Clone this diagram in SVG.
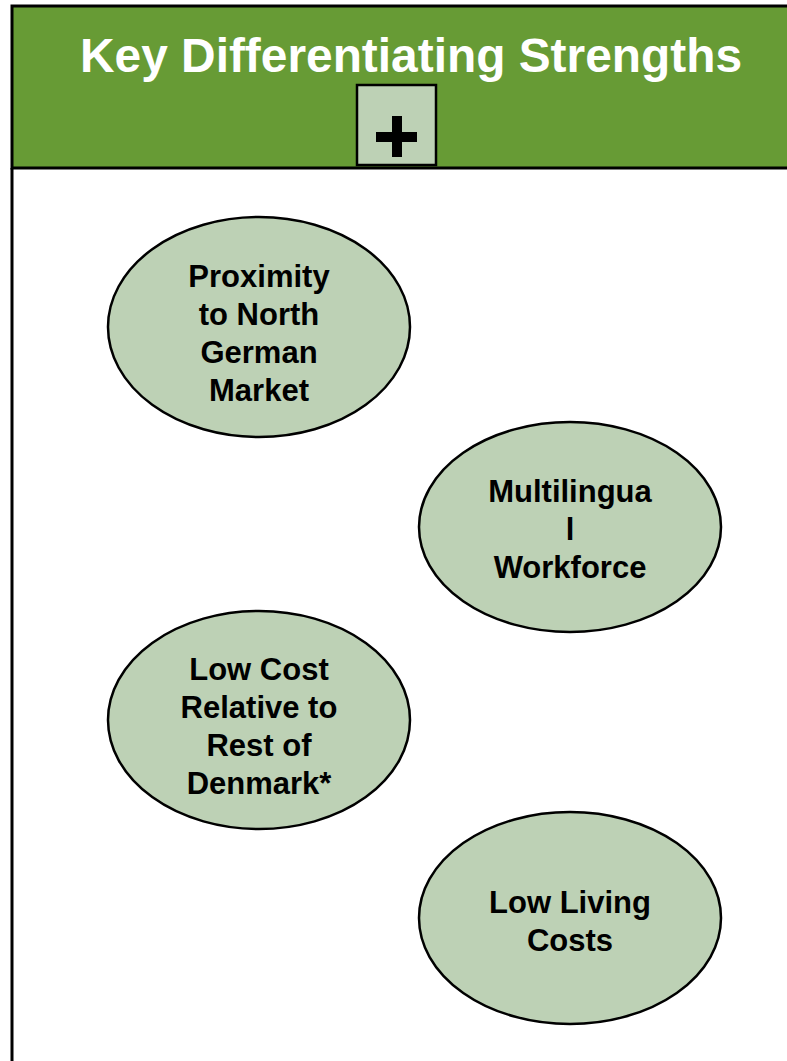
<svg xmlns="http://www.w3.org/2000/svg" width="787" height="1061" viewBox="0 0 787 1061">
<style>
.el{fill:#bdd1b5;stroke:#000;stroke-width:2.5}
.lb{font-family:"Liberation Sans",Arial,sans-serif;font-weight:bold;font-size:31px;fill:#000;text-anchor:middle}
</style>
<rect x="0" y="0" width="787" height="1061" fill="#fff"/>
<g id="frame">
<rect x="12" y="6" width="790" height="162" fill="#679b35" stroke="#000" stroke-width="3"/>
<line x1="12" y1="168" x2="12" y2="1061" stroke="#000" stroke-width="3"/>
<text x="411" y="72" font-family="'Liberation Sans',Arial,sans-serif" font-weight="bold" font-size="48" fill="#fff" text-anchor="middle" textLength="662" lengthAdjust="spacingAndGlyphs">Key Differentiating Strengths</text>
</g>
<g id="plus">
<rect x="357" y="85" width="79" height="80" fill="#bdd1b5" stroke="#000" stroke-width="2.5"/>
<rect x="376" y="132" width="41" height="10" fill="#000"/>
<rect x="392" y="116" width="10" height="41" fill="#000"/>
</g>
<g id="connectors"></g>
<g id="n1">
<ellipse class="el" cx="259" cy="327" rx="151" ry="110"/>
<text class="lb" x="259" y="287">Proximity</text>
<text class="lb" x="259" y="325">to North</text>
<text class="lb" x="259" y="363">German</text>
<text class="lb" x="259" y="401">Market</text>
</g>
<g id="n2">
<ellipse class="el" cx="570" cy="527" rx="151" ry="105"/>
<text class="lb" x="570" y="502">Multilingua</text>
<text class="lb" x="570" y="540">l</text>
<text class="lb" x="570" y="578">Workforce</text>
</g>
<g id="n3">
<ellipse class="el" cx="259" cy="720" rx="151" ry="109"/>
<text class="lb" x="259" y="680">Low Cost</text>
<text class="lb" x="259" y="718">Relative to</text>
<text class="lb" x="259" y="756">Rest of</text>
<text class="lb" x="259" y="794">Denmark*</text>
</g>
<g id="n4">
<ellipse class="el" cx="570" cy="918" rx="151" ry="106"/>
<text class="lb" x="570" y="913">Low Living</text>
<text class="lb" x="570" y="951">Costs</text>
</g>
</svg>
